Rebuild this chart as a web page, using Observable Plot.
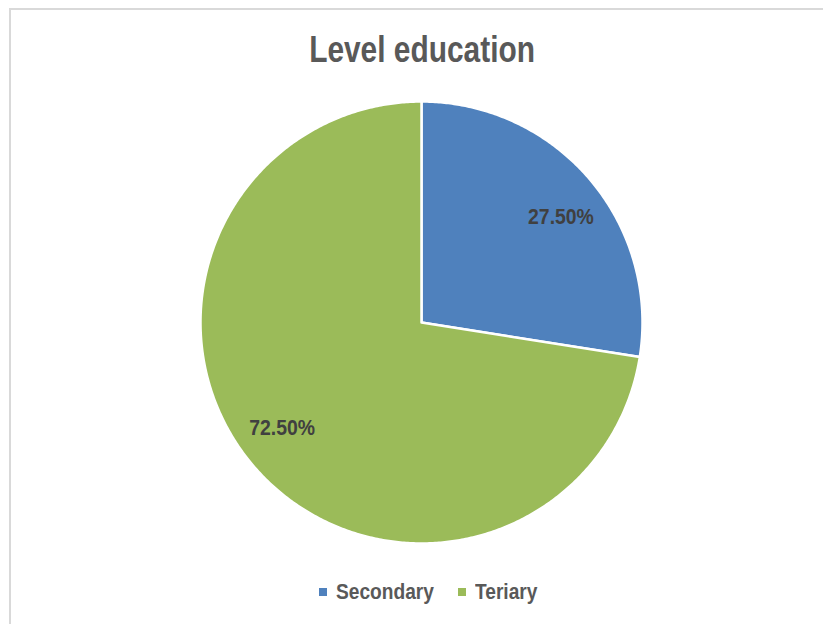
<!DOCTYPE html>
<html>
<head>
<meta charset="utf-8">
<script src="https://cdn.jsdelivr.net/npm/d3@7"></script>
<script src="https://cdn.jsdelivr.net/npm/@observablehq/plot@0.6"></script>
<style>
  html, body { margin: 0; padding: 0; background: #fff; }
  #wrap { position: relative; width: 823px; height: 624px; overflow: hidden;
          font-family: "Liberation Sans", Arial, sans-serif; }
  #frame { position: absolute; left: 9px; top: 8px; width: 840px; height: 640px; border: 2px solid #d9d9d9; box-sizing: border-box; }
  #title { position: absolute; left: 0; width: 844px; top: 26px; text-align: center; font-size: 36px; font-weight: bold; color: #595959; line-height: 48px; }
  #title span { display: inline-block; transform: scaleX(0.83); transform-origin: center; }
  #chart { position: absolute; left: 0; top: 90px; }
  #legend { position: absolute; left: 0; width: 857px; top: 578px; display: flex; justify-content: center; align-items: center; font-size: 22px; font-weight: bold; color: #595959; line-height: 28px; }
  .sw { display: inline-block; width: 8px; height: 8px; margin-right: 9px; flex: none; }
  .item { display: flex; align-items: center; margin: 0 12px; }
  .txt { display: inline-block; transform-origin: left center; white-space: nowrap; }
</style>
</head>
<body>
<div id="wrap">
  <div id="frame"></div>
  <div id="title"><span>Level education</span></div>
  <div id="chart"></div>
  <div id="legend"></div>
</div>
<script>
const categories = ["Secondary", "Teriary"];
const values = [27.5, 72.5];
const labels = ["27.50%", "72.50%"];
const colors = ["#4f81bd", "#9bbb59"];

const pie = d3.pie().sort(null).value(d => d)(values);

// wedge outlines from the pie angles (angle 0 = 12 o'clock, clockwise)
const wedges = [];
pie.forEach((p, i) => {
  const cat = categories[i];
  wedges.push({cat, x: 0, y: 0});
  const n = Math.max(2, Math.ceil((p.endAngle - p.startAngle) / (Math.PI / 360)));
  for (let k = 0; k <= n; k++) {
    const a = p.startAngle + (p.endAngle - p.startAngle) * k / n;
    wedges.push({cat, x: Math.sin(a), y: Math.cos(a)});
  }
  wedges.push({cat, x: 0, y: 0});
});

const labelShift = 3.5 * Math.PI / 180;
const labelData = pie.map((p, i) => {
  const a = (p.startAngle + p.endAngle) / 2 + labelShift;
  return {cat: categories[i], label: labels[i], x: 0.79 * Math.sin(a), y: 0.79 * Math.cos(a)};
});

const chart = Plot.plot({
  width: 823,
  height: 470,
  marginLeft: 200,
  marginRight: 181,
  marginTop: 11,
  marginBottom: 17,
  x: {domain: [-1, 1], axis: null},
  y: {domain: [-1, 1], axis: null},
  color: {domain: categories, range: colors},
  style: {background: "transparent", fontFamily: "'Liberation Sans', Arial, sans-serif"},
  marks: [
    Plot.line(wedges, {x: "x", y: "y", z: "cat", fill: "cat", stroke: "#ffffff", strokeWidth: 2.5, strokeLinejoin: "round", curve: "linear"}),
    Plot.text(labelData, {x: "x", y: "y", text: "label", fill: "#404040", fontSize: 22, fontWeight: "bold"})
  ]
});
document.getElementById("chart").appendChild(chart);

// narrow the label glyphs (condensed look)
chart.querySelectorAll("text").forEach(t => {
  const w = t.getComputedTextLength();
  if (w > 0) {
    t.setAttribute("textLength", (w * 0.88).toFixed(1));
    t.setAttribute("lengthAdjust", "spacingAndGlyphs");
  }
});

const legend = document.getElementById("legend");
categories.forEach((c, i) => {
  const item = document.createElement("div");
  item.className = "item";
  const sw = document.createElement("span");
  sw.className = "sw";
  sw.style.background = colors[i];
  item.appendChild(sw);
  const t = document.createElement("span");
  t.className = "txt";
  t.textContent = c;
  item.appendChild(t);
  legend.appendChild(item);
  const w = t.getBoundingClientRect().width;
  const s = 0.87;
  t.style.transform = `scaleX(${s})`;
  t.style.marginRight = `${-(1 - s) * w}px`;
});
</script>
</body>
</html>
